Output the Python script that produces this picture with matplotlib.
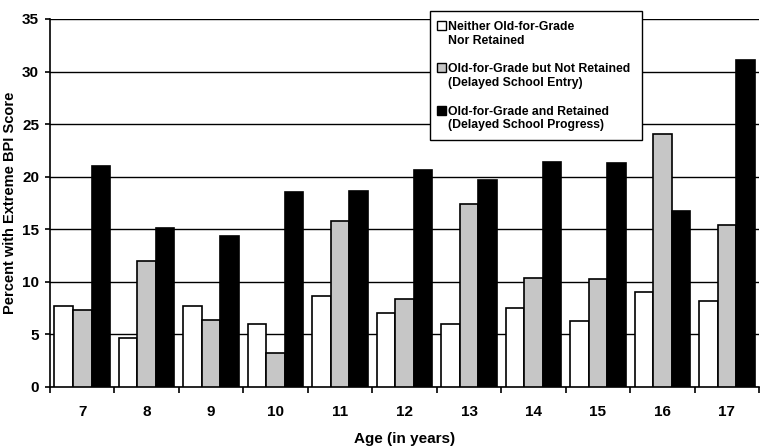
import numpy as np
import matplotlib.pyplot as plt
from matplotlib.patches import Rectangle

plt.rcParams['font.family'] = ['Liberation Sans', 'DejaVu Sans']
plt.rcParams['font.weight'] = 'bold'

ages = ['7', '8', '9', '10', '11', '12', '13', '14', '15', '16', '17']
neither = [7.7, 4.7, 7.7, 6.0, 8.7, 7.0, 6.0, 7.5, 6.3, 9.0, 8.2]
delayed_entry = [7.3, 12.0, 6.4, 3.2, 15.8, 8.4, 17.4, 10.4, 10.3, 24.1, 15.4]
delayed_progress = [21.0, 15.1, 14.4, 18.5, 18.6, 20.6, 19.7, 21.4, 21.3, 16.7, 31.1]

series = [neither, delayed_entry, delayed_progress]
colors = ['white', '#c6c6c6', 'black']
labels = ['Neither Old-for-Grade\nNor Retained',
          'Old-for-Grade but Not Retained\n(Delayed School Entry)',
          'Old-for-Grade and Retained\n(Delayed School Progress)']

fig = plt.figure(figsize=(7.66, 4.46), dpi=100)
ax = fig.add_axes([0.0653, 0.1323, 0.9257, 0.8251])

x = np.arange(len(ages))
w = 0.287
for i, (vals, c) in enumerate(zip(series, colors)):
    ax.bar(x + (i - 1) * w, vals, width=w, color=c, edgecolor='black', linewidth=1.2, zorder=3)

ax.set_xlim(-0.5, len(ages) - 0.5)
ax.set_ylim(0, 35)
ax.set_yticks(np.arange(0, 36, 5))
ax.yaxis.grid(True, color='black', linewidth=1.0, zorder=0)
ax.set_axisbelow(True)

# category boundaries carry the tick marks, labels sit in the middle
ax.set_xticks(np.arange(-0.5, len(ages), 1.0))
ax.set_xticklabels([])
ax.set_xticks(x, minor=True)
ax.set_xticklabels(ages, minor=True)
ax.tick_params(axis='x', which='major', length=4.3, width=1.2, direction='out')
ax.tick_params(axis='x', which='minor', length=0, pad=13, labelsize=11)
ax.tick_params(axis='y', length=3.6, width=1.2, pad=4.3, labelsize=11)

for s in ['top', 'right']:
    ax.spines[s].set_visible(False)
for s in ['left', 'bottom']:
    ax.spines[s].set_linewidth(1.2)

ax.set_xlabel('Age (in years)', fontsize=11, fontweight='bold', labelpad=9)
ax.set_ylabel('Percent with Extreme BPI Score', fontsize=10.5, fontweight='bold', labelpad=3.5)

# legend box drawn by hand so the swatch sits next to the first line
W, H = 766, 446
def fx(px):
    return px / W
def fy(py):
    return 1 - py / H

fig.patches.append(Rectangle((fx(430), fy(140)), fx(641.5) - fx(430), fy(10.7) - fy(140),
                             transform=fig.transFigure, facecolor='white',
                             edgecolor='black', linewidth=1.0, zorder=5))
for i, (lab, c) in enumerate(zip(labels, colors)):
    ytop = 25.5 + i * 42.3
    fig.patches.append(Rectangle((fx(437), fy(ytop + 4.5)), fx(9), 9 / H,
                                 transform=fig.transFigure, facecolor=c,
                                 edgecolor='black', linewidth=1.0, zorder=6))
    fig.text(fx(448), fy(ytop - 4.5), lab, transform=fig.transFigure, fontsize=8.8,
             fontweight='bold', va='top', ha='left', linespacing=1.2, zorder=7)

fig.savefig('out.png', dpi=100)
